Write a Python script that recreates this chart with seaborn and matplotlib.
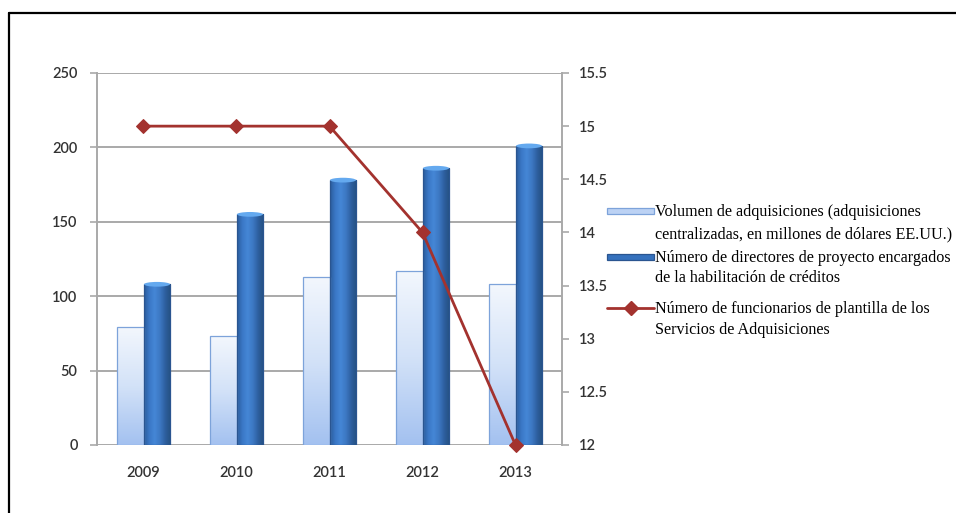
import numpy as np
import pandas as pd
import seaborn as sns
import matplotlib.pyplot as plt
from matplotlib.colors import LinearSegmentedColormap
from matplotlib.patches import Rectangle, Ellipse
from matplotlib.lines import Line2D

# ---- data ----
years = ["2009", "2010", "2011", "2012", "2013"]
volumen = [79, 73, 113, 117, 108]          # left axis
directores = [108, 155, 178, 186, 201]     # left axis
funcionarios = [15, 15, 15, 14, 12]        # right axis
left_ticks = [0, 50, 100, 150, 200, 250]
right_ticks = [12, 12.5, 13, 13.5, 14, 14.5, 15, 15.5]
right_tick_labels = ["12", "12.5", "13", "13.5", "14", "14.5", "15", "15.5"]
series_names = [
    "Volumen de adquisiciones (adquisiciones\ncentralizadas, en millones de dólares EE.UU.)",
    "Número de directores de proyecto encargados\nde la habilitación de créditos",
    "Número de funcionarios de plantilla de los\nServicios de Adquisiciones",
]

W, H = 956, 513
sns.set_style("white")
plt.rcParams["font.family"] = ["Lato", "DejaVu Sans"]

fig = plt.figure(figsize=(W / 100, H / 100), dpi=100)
ax = fig.add_axes([97 / W, 1 - 445 / H, (562 - 97) / W, (445 - 73) / H])

df = pd.DataFrame({
    "year": years * 2,
    "value": volumen + directores,
    "serie": [series_names[0]] * len(years) + [series_names[1]] * len(years),
})

light_c, dark_c = "#b9d0f3", "#3571bd"
sns.barplot(data=df, x="year", y="value", hue="serie", hue_order=series_names[:2],
            palette=[light_c, dark_c], width=0.58, saturation=1, legend=False,
            ax=ax, zorder=3)

cmap_light = LinearSegmentedColormap.from_list("light", ["#a3c1f0", "#d3e2f8", "#f3f7fd"])
cmap_dark = LinearSegmentedColormap.from_list(
    "dark", ["#2a5b9b", "#3a78c6", "#4587d6", "#3c77c2", "#2d5e9d", "#24507f"])
edges = ["#7da3da", "#2a5590"]

grad_v = np.linspace(0, 1, 256).reshape(-1, 1)
grad_h = np.linspace(0, 1, 256).reshape(1, -1)
for k, (cont, cmap, grad, ec) in enumerate(
        zip(ax.containers, [cmap_light, cmap_dark], [grad_v, grad_h], edges)):
    for bar in cont:
        x0, y0 = bar.get_x(), bar.get_y()
        w, h = bar.get_width(), bar.get_height()
        im = ax.imshow(grad, cmap=cmap, extent=[x0, x0 + w, y0, y0 + h],
                       aspect="auto", origin="lower", zorder=2.5, interpolation="bilinear")
        im.set_clip_path(bar)
        bar.set_facecolor("none")
        bar.set_edgecolor(ec)
        bar.set_linewidth(0.9)
        if k == 1:
            # rounded highlight on the top of each dark bar
            cap = Ellipse((x0 + w / 2, y0 + h), w * 0.96, 3.2, facecolor="#64a9ef",
                          edgecolor="none", zorder=3.2)
            ax.add_patch(cap)

ax.set_xlim(-0.5, len(years) - 0.5)
ax.set_ylim(0, 250)
ax.set_yticks(left_ticks)
ax.set_xlabel("")
ax.set_ylabel("")
ax.grid(axis="y", color="#a9a9a9", linewidth=1.4, zorder=0)
ax.grid(axis="x", visible=False)
ax.set_axisbelow(True)
for side in ["top", "right", "bottom"]:
    ax.spines[side].set_visible(False)
ax.spines["left"].set_color("#a9a9a9")
ax.spines["left"].set_linewidth(1.4)
ax.tick_params(axis="y", length=5, width=1.2, color="#a9a9a9", pad=9,
               labelsize=10.5, labelcolor="#333333", left=True)
ax.tick_params(axis="x", length=0, pad=15, labelsize=10.5, labelcolor="#333333")

# ---- staff line on the secondary axis ----
ax2 = ax.twinx()
line_c = "#a3322e"
sns.lineplot(x=np.arange(len(years)), y=funcionarios, ax=ax2, color=line_c,
             linewidth=2, marker="D", markersize=7, markeredgecolor=line_c,
             clip_on=False, zorder=5)
ax2.set_ylim(12, 15.5)
ax2.set_yticks(right_ticks)
ax2.set_yticklabels(right_tick_labels)
for side in ["top", "left", "bottom"]:
    ax2.spines[side].set_visible(False)
ax2.spines["right"].set_color("#a9a9a9")
ax2.spines["right"].set_linewidth(1.4)
ax2.tick_params(axis="y", length=5, width=1.2, color="#a9a9a9", pad=7,
                labelsize=10.5, labelcolor="#333333", right=True)
ax2.grid(False)

for lbl in ax.get_xticklabels() + ax.get_yticklabels() + ax2.get_yticklabels():
    lbl.set_fontweight("semibold")

# ---- legend, drawn in figure pixel coordinates ----
def fx(px):
    return px / W

def fy(py):
    return 1 - py / H

serif = ["Liberation Serif", "DejaVu Serif"]
baselines = [(216.5, 238), (261.5, 282), (313, 333.5)]
for name, (b1, b2) in zip(series_names, baselines):
    l1, l2 = name.split("\n")
    fig.text(fx(655), fy(b1), l1, family=serif, fontsize=11.6, va="baseline", color="black")
    fig.text(fx(655), fy(b2), l2, family=serif, fontsize=11.6, va="baseline", color="black")

fig.add_artist(Rectangle((fx(607), fy(214)), fx(654) - fx(607), fy(208) - fy(214),
                         facecolor="#bcd2f4", edgecolor="#7da3da", linewidth=0.9,
                         transform=fig.transFigure))
fig.add_artist(Rectangle((fx(607), fy(260)), fx(654) - fx(607), fy(254) - fy(260),
                         facecolor="#3571bd", edgecolor="#2a5590", linewidth=0.9,
                         transform=fig.transFigure))
fig.add_artist(Line2D([fx(607), fx(654)], [fy(308), fy(308)], color=line_c, linewidth=2,
                      transform=fig.transFigure))
fig.add_artist(Line2D([fx(630.5)], [fy(308)], color=line_c, marker="D", markersize=7,
                      transform=fig.transFigure))

# ---- frame ----
fig.add_artist(Line2D([fx(9), fx(W)], [fy(13), fy(13)], color="black", linewidth=1.6,
                      transform=fig.transFigure))
fig.add_artist(Line2D([fx(9), fx(9)], [fy(13), fy(H)], color="black", linewidth=1.6,
                      transform=fig.transFigure))

fig.savefig("out.png", dpi=100)
